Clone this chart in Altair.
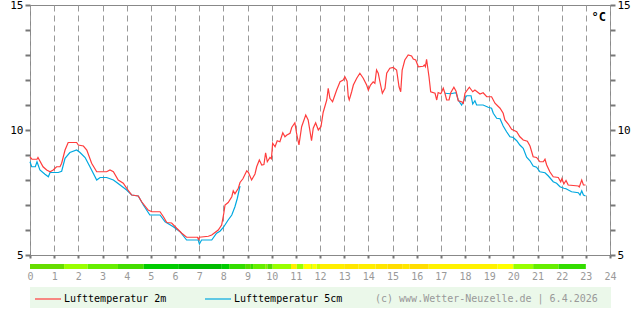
import altair as alt
import pandas as pd

# Lufttemperatur 2m: (hour, °C)
red_2m = [
    (0.00, 8.92), (0.08, 8.83), (0.29, 8.83), (0.33, 8.90), (0.54, 8.53), (0.69, 8.40),
    (0.83, 8.33), (0.96, 8.40), (1.10, 8.53), (1.24, 8.53), (1.31, 8.67), (1.45, 9.20),
    (1.58, 9.50), (1.93, 9.50), (2.00, 9.40), (2.21, 9.36), (2.35, 9.20), (2.55, 8.67),
    (2.76, 8.33), (3.17, 8.33), (3.31, 8.40), (3.45, 8.33), (3.65, 8.00), (3.86, 7.87),
    (4.00, 7.67), (4.21, 7.40), (4.48, 7.36), (4.62, 7.13), (4.89, 6.80), (5.04, 6.73),
    (5.38, 6.73), (5.52, 6.53), (5.66, 6.30), (5.86, 6.28), (6.07, 6.07), (6.28, 5.87),
    (6.48, 5.71), (6.93, 5.71), (6.97, 5.63), (7.01, 5.71), (7.38, 5.75), (7.52, 5.80),
    (7.79, 6.00), (7.93, 6.20), (8.02, 6.67), (8.07, 7.00), (8.20, 7.10), (8.35, 7.33),
    (8.41, 7.57), (8.48, 7.45), (8.62, 7.67), (8.69, 7.90), (8.81, 8.05), (8.97, 8.37),
    (9.04, 8.30), (9.17, 8.00), (9.31, 8.24), (9.38, 8.53), (9.49, 8.80), (9.59, 8.60),
    (9.68, 8.62), (9.75, 9.09), (9.82, 8.73), (9.93, 8.90), (9.99, 8.85), (10.04, 9.47),
    (10.14, 9.33), (10.23, 9.57), (10.34, 9.53), (10.46, 9.89), (10.55, 9.73), (10.63, 9.80),
    (10.76, 9.87), (10.83, 10.10), (10.96, 10.29), (11.03, 9.87), (11.13, 9.40), (11.24, 10.13),
    (11.41, 10.60), (11.51, 10.40), (11.65, 9.57), (11.72, 10.07), (11.82, 10.29), (11.93, 10.00),
    (12.04, 10.13), (12.13, 10.70), (12.28, 11.20), (12.34, 11.67), (12.41, 11.27), (12.52, 11.13),
    (12.69, 11.60), (12.83, 11.93), (12.96, 12.00), (13.03, 12.13), (13.12, 11.95), (13.17, 11.33),
    (13.21, 11.20), (13.31, 11.53), (13.38, 11.80), (13.52, 12.07), (13.65, 12.27), (13.79, 12.07),
    (13.93, 11.80), (14.00, 11.60), (14.09, 11.80), (14.20, 11.93), (14.27, 11.87), (14.34, 12.40),
    (14.41, 12.27), (14.48, 11.93), (14.58, 11.47), (14.69, 11.67), (14.76, 12.27), (14.89, 12.47),
    (15.03, 12.50), (15.17, 12.40), (15.27, 11.73), (15.34, 11.53), (15.40, 12.40), (15.51, 12.80),
    (15.65, 13.00), (15.79, 12.96), (15.86, 12.84), (15.96, 12.80), (16.07, 12.53), (16.27, 12.55),
    (16.32, 12.60), (16.36, 12.53), (16.41, 12.83), (16.51, 12.13), (16.58, 11.53), (16.76, 11.47),
    (16.83, 11.20), (16.89, 11.50), (17.00, 11.45), (17.10, 11.67), (17.17, 11.47), (17.24, 11.20),
    (17.34, 11.20), (17.41, 11.49), (17.54, 11.71), (17.63, 11.55), (17.72, 11.17), (17.86, 11.13),
    (17.93, 11.07), (18.00, 11.47), (18.18, 11.71), (18.32, 11.53), (18.41, 11.60), (18.62, 11.44),
    (18.75, 11.49), (18.90, 11.33), (19.10, 11.33), (19.24, 11.07), (19.45, 10.87), (19.58, 10.67),
    (19.65, 10.40), (19.79, 10.24), (19.93, 10.03), (20.14, 9.93), (20.27, 9.73), (20.41, 9.60),
    (20.58, 9.55), (20.69, 9.36), (20.82, 8.93), (20.96, 8.90), (21.10, 8.73), (21.24, 8.73),
    (21.31, 8.83), (21.38, 8.60), (21.51, 8.33), (21.65, 8.13), (21.86, 8.10), (21.96, 7.93),
    (22.01, 8.05), (22.09, 7.84), (22.18, 7.98), (22.27, 7.80), (22.69, 7.76), (22.73, 7.72),
    (22.83, 8.00), (22.90, 7.80), (22.99, 7.80),
]

# Lufttemperatur 5cm, first stretch (night / morning)
blue_5cm_a = [
    (0.00, 8.73), (0.07, 8.53), (0.22, 8.53), (0.29, 8.73), (0.41, 8.40), (0.62, 8.23),
    (0.76, 8.13), (0.83, 8.30), (1.17, 8.30), (1.31, 8.35), (1.45, 8.87), (1.65, 9.10),
    (1.93, 9.20), (2.07, 9.10), (2.28, 8.90), (2.48, 8.53), (2.76, 8.00), (2.90, 8.10),
    (3.17, 8.10), (3.45, 8.00), (3.59, 7.90), (4.00, 7.60), (4.21, 7.40), (4.48, 7.36),
    (4.69, 7.00), (4.96, 6.60), (5.38, 6.60), (5.59, 6.33), (5.93, 6.13), (6.21, 5.93),
    (6.48, 5.60), (6.96, 5.60), (7.01, 5.44), (7.10, 5.60), (7.52, 5.60), (7.72, 5.87),
    (7.86, 5.95), (8.00, 6.10), (8.20, 6.40), (8.35, 6.60), (8.48, 6.93), (8.58, 7.27),
    (8.69, 7.76),
]

# Lufttemperatur 5cm, second stretch (evening)
blue_5cm_b = [
    (17.17, 11.47), (17.41, 11.45), (17.63, 11.49), (17.72, 11.20), (17.86, 11.00), (18.00, 11.27),
    (18.07, 11.37), (18.25, 11.37), (18.32, 11.04), (18.41, 11.17), (18.48, 11.00), (18.75, 11.00),
    (18.96, 10.91), (19.10, 10.87), (19.17, 10.67), (19.31, 10.47), (19.45, 10.45), (19.58, 10.16),
    (19.72, 9.93), (19.86, 9.73), (20.00, 9.70), (20.14, 9.57), (20.27, 9.40), (20.41, 9.27),
    (20.55, 8.91), (20.69, 8.77), (20.82, 8.56), (20.96, 8.51), (21.10, 8.33), (21.31, 8.29),
    (21.45, 8.16), (21.65, 7.93), (21.79, 7.87), (21.93, 7.73), (22.09, 7.67), (22.18, 7.65),
    (22.41, 7.53), (22.69, 7.49), (22.76, 7.40), (22.83, 7.57), (22.90, 7.40), (22.99, 7.36),
]

# colour strip under the plot
bar_start = [0.00, 1.41, 2.39, 3.64, 4.71, 6.16, 7.91, 8.24, 8.90, 9.14, 9.23, 9.73, 9.82,
             10.04, 10.80, 11.04, 11.32, 11.63, 11.70, 11.86, 12.00, 13.00, 13.60, 14.30,
             14.80, 15.40, 15.70, 16.50, 19.35, 20.00, 20.82, 21.88]
bar_end = bar_start[1:] + [23.00]
bar_color = ["#66dd00", "#99ff00", "#66ee00", "#44dd00", "#00cc00", "#00bb00", "#00cc00",
             "#33dd00", "#55dd00", "#33dd00", "#66ee00", "#88ee00", "#55dd00", "#99ff00",
             "#ffee00", "#99ff00", "#ffff00", "#ccff00", "#ffff00", "#ccff00", "#ffee00",
             "#ffe600", "#ffee00", "#ffe600", "#ffdd00", "#ffe600", "#ffdd00", "#fff200",
             "#ffff00", "#99ff00", "#66ee00", "#33dd00"]

x_ticks = list(range(0, 25))
y_ticks = list(range(5, 16))
legend_labels = ["Lufttemperatur 2m", "Lufttemperatur 5cm"]
credit = "(c) www.Wetter-Neuzelle.de | 6.4.2026"
unit = "°C"

RED = "#ff3c3c"
BLUE = "#00a8e0"
TICK = "#777777"
FONT = "DejaVu Sans Mono"

red_df = pd.DataFrame(red_2m, columns=["h", "t"])
blue_df = pd.concat([
    pd.DataFrame(blue_5cm_a, columns=["h", "t"]).assign(seg="a"),
    pd.DataFrame(blue_5cm_b, columns=["h", "t"]).assign(seg="b"),
])
bar_df = pd.DataFrame({"s": bar_start, "e": bar_end, "c": bar_color})

xscale = alt.Scale(domain=[0, 24], nice=False, zero=False)
yscale = alt.Scale(domain=[5, 15], nice=False, zero=False)

x_axis = alt.Axis(values=x_ticks, grid=True, gridDash=[6, 4], gridColor="#999999",
                  gridWidth=1, ticks=True, tickSize=3, tickWidth=2, tickColor=TICK,
                  domain=False, labelColor="#999999", labelFont=FONT, labelFontSize=10,
                  labelPadding=13, title=None, format="d", labelFlush=False)
y_left = alt.Axis(values=y_ticks, orient="left", grid=False, ticks=True, tickSize=5,
                  tickWidth=2, tickColor=TICK,
                  domain=False, labelColor="#000000", labelFont=FONT, labelFontSize=11,
                  labelPadding=2, title=None,
                  labelExpr="datum.value % 5 == 0 ? datum.label : ''")
y_right = alt.Axis(values=y_ticks, orient="right", grid=False, ticks=True, tickSize=5,
                   tickWidth=2, tickColor=TICK,
                   domain=False, labelColor="#000000", labelFont=FONT, labelFontSize=11,
                   labelPadding=2, title=None,
                   labelExpr="datum.value % 5 == 0 ? datum.label : ''")

blue = alt.Chart(blue_df).mark_line(color=BLUE, strokeWidth=1.2).encode(
    x=alt.X("h:Q", scale=xscale, axis=x_axis),
    y=alt.Y("t:Q", scale=yscale, axis=y_left),
    detail="seg:N",
)
red = alt.Chart(red_df).mark_line(color=RED, strokeWidth=1.2).encode(
    x=alt.X("h:Q", scale=xscale, axis=x_axis),
    y=alt.Y("t:Q", scale=yscale, axis=y_right),
)

bar = alt.Chart(bar_df).mark_rect().encode(
    x=alt.X("s:Q", scale=xscale, axis=x_axis),
    x2="e:Q",
    y=alt.value(259),
    y2=alt.value(264),
    color=alt.Color("c:N", scale=None),
)

one = pd.DataFrame({"k": [0]})
legend_bg = alt.Chart(one).mark_rect(color="#ebf8ea").encode(
    x=alt.value(0), x2=alt.value(581), y=alt.value(282), y2=alt.value(303))
leg_red = alt.Chart(one).mark_rule(color=RED, strokeWidth=1.2).encode(
    x=alt.value(5), x2=alt.value(31), y=alt.value(294))
leg_blue = alt.Chart(one).mark_rule(color=BLUE, strokeWidth=1.2).encode(
    x=alt.value(175), x2=alt.value(201), y=alt.value(294))
txt_red = alt.Chart(one).mark_text(text=legend_labels[0], font=FONT, fontSize=10, align="left",
                                   baseline="middle", color="#000000").encode(
    x=alt.value(34), y=alt.value(294))
txt_blue = alt.Chart(one).mark_text(text=legend_labels[1], font=FONT, fontSize=10, align="left",
                                    baseline="middle", color="#000000").encode(
    x=alt.value(204), y=alt.value(294))
txt_credit = alt.Chart(one).mark_text(text=credit, font=FONT, fontSize=10, align="left",
                                      baseline="middle", color="#999999").encode(
    x=alt.value(345), y=alt.value(294))
txt_unit = alt.Chart(one).mark_text(text=unit, font=FONT, fontSize=12, fontWeight="bold",
                                    align="right", baseline="middle", color="#000000").encode(
    x=alt.value(576), y=alt.value(12))

chart = alt.layer(
    blue, red, bar, legend_bg, leg_red, leg_blue,
    txt_red, txt_blue, txt_credit, txt_unit
).resolve_axis(y="independent").properties(
    width=580, height=250,
    autosize=alt.AutoSizeParams(type="none"),
    padding={"left": 30, "top": 5, "right": 30, "bottom": 60},
    background="#ffffff",
).configure_view(stroke="#888888", strokeWidth=1)

chart.save("out.html", embed_options={"renderer": "svg", "actions": False})
